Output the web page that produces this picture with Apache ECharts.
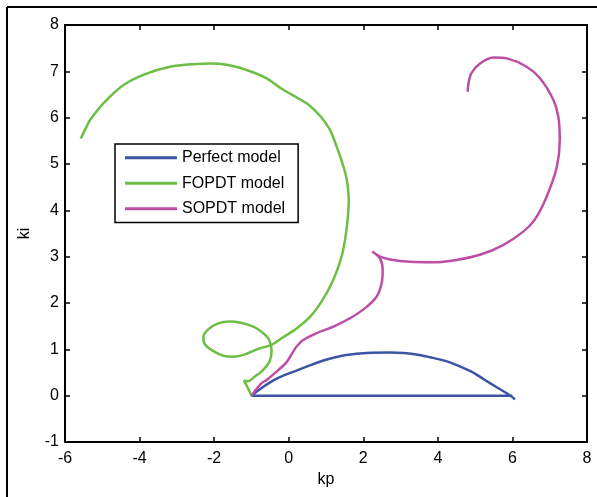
<!DOCTYPE html>
<html>
<head>
<meta charset="utf-8">
<script src="https://cdn.jsdelivr.net/npm/echarts@6/dist/echarts.min.js"></script>
<style>
  html, body { margin: 0; padding: 0; background: #fff; }
  #chart { width: 597px; height: 497px; }
</style>
</head>
<body>
<div id="chart"></div>
<script>
// Stability boundaries in the (kp, ki) plane for three plant models.
const seriesNames = ['Perfect model', 'FOPDT model', 'SOPDT model'];

// Perfect model: the ki = 0 edge, then the upper arc
const perfectModel = [
  [6.00, 0.00], [-1.00, 0.00],
  [-0.70, 0.18], [-0.41, 0.33], [-0.10, 0.45], [0.21, 0.54], [0.55, 0.65],
  [0.93, 0.76], [1.25, 0.83], [1.55, 0.88], [2.09, 0.92], [2.72, 0.93],
  [3.09, 0.92], [3.50, 0.88], [3.79, 0.83], [4.20, 0.75], [4.51, 0.66],
  [4.90, 0.52], [5.24, 0.35], [5.60, 0.17], [5.93, 0.01], [6.07, -0.08]
];

// First-order-plus-dead-time model
const fopdtModel = [
  [-1.00, 0.00], [-1.10, 0.17], [-1.20, 0.33], [-1.10, 0.31], [-0.90, 0.42],
  [-0.73, 0.52], [-0.52, 0.73], [-0.46, 0.95], [-0.48, 1.09], [-0.55, 1.24],
  [-0.73, 1.38], [-0.95, 1.49], [-1.26, 1.57], [-1.58, 1.60], [-1.89, 1.56],
  [-2.16, 1.43], [-2.29, 1.26], [-2.25, 1.11], [-2.02, 0.96], [-1.75, 0.86],
  [-1.49, 0.84], [-1.17, 0.89], [-0.82, 1.01], [-0.48, 1.09], [-0.15, 1.26],
  [0.21, 1.45], [0.57, 1.70], [0.88, 2.03], [1.15, 2.42], [1.33, 2.78],
  [1.46, 3.14], [1.56, 3.65], [1.61, 4.22], [1.56, 4.65], [1.47, 4.94],
  [1.32, 5.30], [1.11, 5.73], [0.85, 6.03], [0.55, 6.27], [0.25, 6.42],
  [-0.20, 6.63], [-0.59, 6.85], [-1.13, 7.03], [-1.66, 7.14], [-2.10, 7.17],
  [-2.47, 7.16], [-3.18, 7.10], [-3.85, 6.94], [-4.44, 6.70], [-4.97, 6.31],
  [-5.33, 5.95], [-5.40, 5.84], [-5.58, 5.55]
];

// Second-order-plus-dead-time model
const sopdtModel = [
  [-1.00, 0.00], [-0.73, 0.27], [-0.59, 0.34], [-0.28, 0.55], [-0.05, 0.73],
  [0.12, 0.95], [0.21, 1.06], [0.39, 1.20], [0.75, 1.35], [1.20, 1.49],
  [1.64, 1.67], [2.05, 1.89], [2.36, 2.14], [2.49, 2.42], [2.52, 2.71],
  [2.45, 2.96], [2.24, 3.11], [2.45, 3.00], [2.72, 2.94], [3.25, 2.89],
  [3.88, 2.88], [4.50, 2.93], [5.13, 3.04], [5.75, 3.25], [6.29, 3.54],
  [6.60, 3.80], [6.92, 4.30], [7.19, 4.94], [7.27, 5.52], [7.23, 6.02],
  [7.10, 6.38], [6.74, 6.85], [6.38, 7.10], [5.85, 7.28], [5.49, 7.30],
  [5.13, 7.17], [4.90, 6.96], [4.82, 6.74], [4.80, 6.56]
];

const seriesColors = ['#3B55A5', '#6CBE45', '#BC4FA4'];
const font = "'Liberation Sans', Arial, sans-serif";

const chart = echarts.init(document.getElementById('chart'));

function axisCommon(show) {
  return {
    axisLine: { show: true, onZero: false, lineStyle: { color: '#000', width: 2 } },
    axisTick: { show: true, inside: true, length: 5, lineStyle: { color: '#000', width: 1.5 } },
    axisLabel: { show: show, color: '#000', fontSize: 16, fontFamily: font },
    splitLine: { show: false }
  };
}

chart.setOption({
  animation: false,
  backgroundColor: '#fff',
  grid: { left: 65, right: 10, top: 25, bottom: 55 },
  xAxis: [
    Object.assign({
      type: 'value', min: -6, max: 8, interval: 2, position: 'bottom',
      name: 'kp', nameLocation: 'middle', nameGap: 30,
      nameTextStyle: { color: '#000', fontSize: 16, fontFamily: font }
    }, axisCommon(true), { axisLabel: { color: '#000', fontSize: 16, fontFamily: font, margin: 9 } }),
    Object.assign({ type: 'value', min: -6, max: 8, interval: 2, position: 'top' }, axisCommon(false))
  ],
  yAxis: [
    Object.assign({
      type: 'value', min: -1, max: 8, interval: 1, position: 'left',
      name: 'ki', nameLocation: 'middle', nameGap: 32,
      nameTextStyle: { color: '#000', fontSize: 16, fontFamily: font }
    }, axisCommon(true), { axisLabel: { color: '#000', fontSize: 16, fontFamily: font, margin: 6 } }),
    Object.assign({ type: 'value', min: -1, max: 8, interval: 1, position: 'right' }, axisCommon(false))
  ],
  legend: {
    orient: 'vertical', left: 115, top: 144,
    data: seriesNames,
    icon: 'rect',
    itemWidth: 52, itemHeight: 3, itemGap: 0,
    padding: [1, 13, 1, 10],
    borderColor: '#000', borderWidth: 1.5,
    backgroundColor: '#fff',
    textStyle: { color: '#000', fontSize: 16, fontFamily: font, lineHeight: 25.5 }
  },
  series: [
    { name: seriesNames[0], data: perfectModel },
    { name: seriesNames[1], data: fopdtModel },
    { name: seriesNames[2], data: sopdtModel }
  ].map((s, i) => ({
    name: s.name, type: 'line', data: s.data,
    xAxisIndex: 0, yAxisIndex: 0,
    symbol: 'none', smooth: 0.3,
    color: seriesColors[i],
    lineStyle: { color: seriesColors[i], width: 2.5 }
  })),
  graphic: [
    { type: 'line', shape: { x1: 7, y1: 7, x2: 597, y2: 7 }, style: { stroke: '#000', lineWidth: 2 } },
    { type: 'line', shape: { x1: 7, y1: 7, x2: 7, y2: 497 }, style: { stroke: '#000', lineWidth: 2 } }
  ]
});
</script>
</body>
</html>
